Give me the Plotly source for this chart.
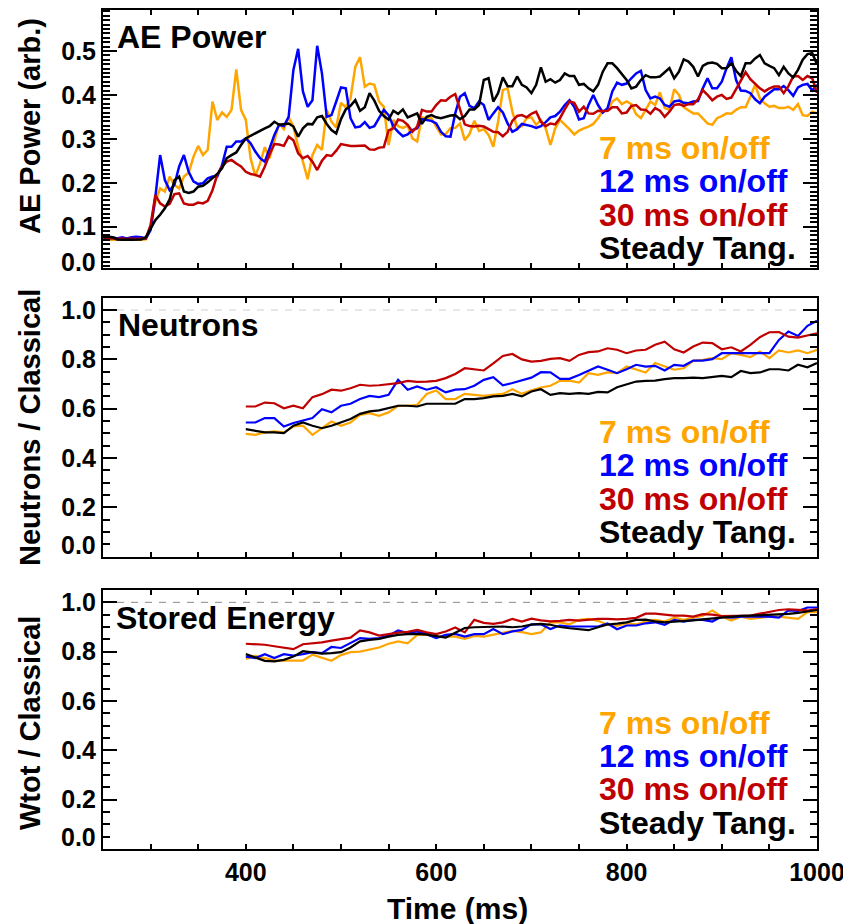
import numpy as np
import plotly.graph_objects as go

# ---------------- data ----------------
t_ae = list(range(250, 1001, 5))
t_slow = list(range(400, 1001, 10))

ae_7ms = [0.071,0.070,0.071,0.070,0.071,0.072,0.071,0.070,0.070,0.071,
          0.100,0.157,0.187,0.180,0.214,0.195,0.187,0.214,0.223,0.259,
          0.284,0.263,0.275,0.385,0.343,0.360,0.350,0.366,0.458,0.366,
          0.343,0.256,0.215,0.244,0.281,0.256,0.294,0.335,0.322,0.349,
          0.328,0.282,0.248,0.208,0.263,0.286,0.275,0.366,0.339,0.326,
          0.382,0.372,0.392,0.464,0.486,0.419,0.426,0.423,0.385,0.373,
          0.286,0.343,0.329,0.325,0.330,0.301,0.294,0.349,0.347,0.347,
          0.328,0.310,0.311,0.324,0.325,0.335,0.297,0.311,0.341,0.318,
          0.322,0.309,0.282,0.339,0.411,0.415,0.362,0.326,0.329,0.347,
          0.349,0.332,0.343,0.324,0.286,0.324,0.343,0.333,0.322,0.310,
          0.319,0.324,0.328,0.334,0.347,0.364,0.364,0.385,0.392,0.379,
          0.385,0.379,0.356,0.347,0.366,0.385,0.377,0.406,0.370,0.366,
          0.413,0.400,0.372,0.364,0.358,0.358,0.347,0.335,0.332,0.347,
          0.352,0.358,0.357,0.366,0.372,0.372,0.396,0.423,0.392,0.381,
          0.373,0.375,0.370,0.370,0.373,0.366,0.379,0.354,0.352,0.362,
          0.358]
ae_12ms = [0.077,0.077,0.076,0.073,0.076,0.073,0.076,0.077,0.076,0.073,
           0.092,0.168,0.263,0.206,0.183,0.195,0.237,0.263,0.225,0.203,
           0.197,0.199,0.210,0.214,0.214,0.240,0.282,0.282,0.294,0.294,
           0.301,0.290,0.271,0.256,0.248,0.278,0.309,0.332,0.329,0.350,
           0.457,0.505,0.408,0.373,0.388,0.512,0.449,0.350,0.354,0.385,
           0.417,0.415,0.347,0.326,0.328,0.338,0.325,0.329,0.347,0.366,
           0.354,0.328,0.316,0.306,0.310,0.320,0.324,0.345,0.343,0.341,
           0.335,0.316,0.306,0.305,0.358,0.396,0.404,0.375,0.370,0.385,
           0.377,0.343,0.358,0.372,0.360,0.335,0.316,0.322,0.334,0.332,
           0.329,0.325,0.329,0.338,0.349,0.352,0.362,0.377,0.388,0.373,
           0.344,0.347,0.377,0.400,0.377,0.360,0.370,0.408,0.428,0.423,
           0.426,0.438,0.449,0.455,0.411,0.392,0.396,0.392,0.377,0.373,
           0.385,0.387,0.382,0.381,0.385,0.386,0.415,0.438,0.415,0.415,
           0.430,0.461,0.486,0.434,0.410,0.409,0.404,0.390,0.381,0.396,
           0.405,0.413,0.413,0.420,0.411,0.398,0.417,0.423,0.425,0.410,
           0.423]
ae_30ms = [0.076,0.073,0.073,0.072,0.073,0.072,0.073,0.072,0.073,0.073,
           0.104,0.172,0.153,0.146,0.152,0.174,0.176,0.153,0.150,0.150,
           0.155,0.153,0.159,0.183,0.218,0.237,0.248,0.252,0.244,0.237,
           0.225,0.220,0.218,0.214,0.237,0.265,0.288,0.287,0.284,0.305,
           0.297,0.267,0.256,0.261,0.248,0.229,0.250,0.263,0.261,0.273,
           0.288,0.286,0.284,0.284,0.285,0.285,0.276,0.275,0.280,0.281,
           0.319,0.324,0.344,0.341,0.332,0.316,0.328,0.366,0.362,0.362,
           0.377,0.388,0.387,0.396,0.402,0.366,0.333,0.329,0.328,0.330,
           0.328,0.322,0.316,0.315,0.306,0.316,0.341,0.352,0.354,0.349,
           0.357,0.362,0.339,0.329,0.335,0.333,0.347,0.367,0.385,0.382,
           0.362,0.373,0.358,0.357,0.364,0.363,0.364,0.372,0.372,0.358,
           0.360,0.375,0.377,0.367,0.366,0.357,0.370,0.364,0.350,0.362,
           0.377,0.379,0.375,0.379,0.379,0.390,0.411,0.400,0.388,0.396,
           0.400,0.391,0.394,0.413,0.434,0.452,0.436,0.425,0.415,0.408,
           0.415,0.419,0.419,0.404,0.420,0.442,0.443,0.434,0.443,0.438,
           0.405]
ae_steady = [0.076,0.077,0.076,0.071,0.070,0.071,0.070,0.070,0.071,0.076,
             0.094,0.115,0.127,0.142,0.162,0.206,0.214,0.180,0.177,0.180,
             0.191,0.193,0.201,0.210,0.220,0.233,0.256,0.263,0.269,0.286,
             0.301,0.307,0.313,0.318,0.324,0.329,0.339,0.332,0.334,0.335,
             0.328,0.305,0.324,0.334,0.333,0.349,0.352,0.334,0.320,0.312,
             0.345,0.367,0.375,0.388,0.364,0.372,0.404,0.387,0.364,0.352,
             0.344,0.364,0.357,0.367,0.349,0.354,0.358,0.334,0.350,0.354,
             0.349,0.347,0.350,0.353,0.354,0.345,0.352,0.367,0.367,0.377,
             0.434,0.438,0.385,0.404,0.440,0.420,0.420,0.442,0.423,0.417,
             0.404,0.423,0.463,0.430,0.436,0.428,0.434,0.449,0.443,0.443,
             0.423,0.425,0.415,0.408,0.423,0.453,0.472,0.472,0.461,0.448,
             0.434,0.415,0.419,0.434,0.445,0.440,0.440,0.442,0.451,0.461,
             0.438,0.453,0.481,0.476,0.464,0.442,0.466,0.472,0.474,0.471,
             0.461,0.461,0.472,0.455,0.443,0.472,0.472,0.483,0.491,0.472,
             0.466,0.461,0.445,0.464,0.449,0.440,0.457,0.480,0.493,0.495,
             0.470]

neut_7ms = [0.498,0.494,0.504,0.508,0.504,0.528,0.531,0.494,0.521,0.548,
            0.531,0.544,0.575,0.582,0.571,0.585,0.612,0.612,0.616,0.660,
            0.674,0.639,0.639,0.660,0.656,0.652,0.656,0.660,0.679,0.660,
            0.675,0.686,0.693,0.713,0.714,0.706,0.744,0.737,0.747,0.744,
            0.771,0.758,0.747,0.785,0.771,0.758,0.764,0.794,0.798,0.805,
            0.801,0.825,0.818,0.809,0.832,0.805,0.836,0.828,0.836,0.825,
            0.839]
neut_12ms = [0.544,0.544,0.562,0.562,0.528,0.542,0.552,0.562,0.598,0.585,
             0.612,0.620,0.639,0.652,0.647,0.656,0.717,0.677,0.690,0.677,
             0.687,0.666,0.677,0.679,0.693,0.717,0.728,0.695,0.704,0.714,
             0.726,0.748,0.747,0.721,0.721,0.737,0.755,0.771,0.758,0.744,
             0.760,0.778,0.771,0.774,0.755,0.778,0.774,0.795,0.795,0.801,
             0.825,0.825,0.828,0.825,0.825,0.825,0.879,0.913,0.895,0.936,
             0.957]
neut_30ms = [0.609,0.609,0.625,0.622,0.602,0.612,0.602,0.647,0.659,0.677,
             0.673,0.683,0.697,0.693,0.695,0.700,0.704,0.713,0.709,0.710,
             0.713,0.724,0.741,0.764,0.760,0.755,0.784,0.814,0.822,0.800,
             0.791,0.794,0.802,0.805,0.794,0.818,0.829,0.832,0.845,0.839,
             0.825,0.836,0.839,0.859,0.872,0.841,0.828,0.852,0.868,0.866,
             0.841,0.849,0.832,0.859,0.890,0.910,0.911,0.892,0.888,0.897,
             0.906]
neut_steady = [0.517,0.512,0.504,0.504,0.501,0.531,0.544,0.531,0.521,0.531,
               0.544,0.558,0.579,0.589,0.593,0.602,0.612,0.612,0.609,0.620,
               0.620,0.620,0.620,0.639,0.639,0.643,0.650,0.652,0.660,0.650,
               0.670,0.679,0.656,0.663,0.660,0.663,0.660,0.668,0.666,0.687,
               0.697,0.710,0.713,0.714,0.720,0.724,0.724,0.726,0.724,0.728,
               0.733,0.728,0.753,0.744,0.747,0.760,0.760,0.755,0.778,0.768,
               0.785]

wtot_7ms = [0.770,0.783,0.774,0.765,0.764,0.764,0.764,0.788,0.774,0.763,
            0.786,0.798,0.800,0.807,0.817,0.832,0.842,0.834,0.868,0.868,
            0.861,0.861,0.861,0.852,0.864,0.861,0.868,0.875,0.884,0.879,
            0.871,0.878,0.919,0.919,0.911,0.929,0.933,0.925,0.909,0.905,
            0.915,0.911,0.922,0.929,0.922,0.938,0.929,0.938,0.946,0.967,
            0.942,0.926,0.942,0.933,0.938,0.942,0.942,0.938,0.933,0.960,
            0.960]
wtot_12ms = [0.780,0.774,0.790,0.774,0.790,0.784,0.790,0.798,0.794,0.819,
             0.815,0.834,0.855,0.852,0.855,0.865,0.886,0.875,0.882,0.871,
             0.855,0.868,0.872,0.861,0.871,0.871,0.892,0.871,0.882,0.888,
             0.911,0.911,0.892,0.906,0.902,0.902,0.902,0.902,0.914,0.891,
             0.906,0.906,0.915,0.919,0.909,0.929,0.922,0.929,0.929,0.922,
             0.942,0.938,0.942,0.942,0.945,0.942,0.938,0.967,0.965,0.979,
             0.979]
wtot_30ms = [0.832,0.830,0.828,0.822,0.815,0.810,0.830,0.833,0.838,0.845,
             0.850,0.857,0.886,0.878,0.865,0.872,0.877,0.880,0.888,0.878,
             0.871,0.882,0.898,0.878,0.929,0.917,0.913,0.919,0.933,0.922,
             0.934,0.927,0.923,0.925,0.929,0.926,0.930,0.933,0.933,0.931,
             0.933,0.937,0.954,0.954,0.950,0.946,0.946,0.942,0.952,0.950,
             0.944,0.945,0.946,0.946,0.954,0.963,0.969,0.972,0.968,0.967,
             0.973]
wtot_steady = [0.790,0.776,0.763,0.761,0.767,0.780,0.802,0.797,0.792,0.794,
               0.798,0.817,0.842,0.848,0.852,0.861,0.868,0.871,0.872,0.869,
               0.864,0.857,0.877,0.896,0.899,0.900,0.902,0.902,0.899,0.902,
               0.910,0.913,0.909,0.900,0.895,0.891,0.887,0.899,0.910,0.914,
               0.919,0.929,0.930,0.923,0.919,0.922,0.923,0.927,0.931,0.935,
               0.938,0.942,0.945,0.946,0.948,0.949,0.949,0.953,0.957,0.964,
               0.969]

series_names = ["7 ms on/off", "12 ms on/off", "30 ms on/off", "Steady Tang."]
series_colors = ["#FFA500", "#0000FF", "#C00000", "#000000"]
panel_titles = ["AE Power", "Neutrons", "Stored Energy"]
y_titles = ["AE Power (arb.)", "Neutrons / Classical", "Wtot / Classical"]
x_title = "Time (ms)"
x_ticks = [400, 600, 800, 1000]

# ---------------- figure ----------------
W, H = 843, 924
ML, MR, MT, MB = 103, 26, 10, 75
plot_h = H - MT - MB
def py(y_px):  # pixel (from top) -> paper
    return (H - MB - y_px) / plot_h
def px(x_px):
    return (x_px - ML) / (W - ML - MR)
def clamp(v):
    return min(1.0, max(0.0, v))

FONT = "Liberation Sans, Arial, Helvetica, sans-serif"

fig = go.Figure()

panels = [
    (t_ae, [ae_7ms, ae_12ms, ae_30ms, ae_steady], 2.5),
    (t_slow, [neut_7ms, neut_12ms, neut_30ms, neut_steady], 2.2),
    (t_slow, [wtot_7ms, wtot_12ms, wtot_30ms, wtot_steady], 2.2),
]
for i, (tt, vals, lw) in enumerate(panels):
    sfx = "" if i == 0 else str(i + 1)
    for name, col, v in zip(series_names, series_colors, vals):
        fig.add_trace(go.Scatter(x=tt, y=v, mode="lines", name=name,
                                 line=dict(color=col, width=lw),
                                 xaxis="x" + sfx, yaxis="y" + sfx,
                                 showlegend=False, hoverinfo="skip"))

domains = [(clamp(py(267.7)), clamp(py(10))),
           (clamp(py(556.7)), clamp(py(297.7))),
           (0.0, clamp(py(590)))]

common = dict(showline=True, linecolor="black", linewidth=2, mirror="ticks",
              ticks="inside", tickcolor="black", tickwidth=1.5,
              showgrid=False, zeroline=False, automargin=False,
              tickfont=dict(family=FONT, size=25, color="black", weight="bold"))

layout = dict(width=W, height=H, margin=dict(l=ML, r=MR, t=MT, b=MB, autoexpand=False),
              paper_bgcolor="white", plot_bgcolor="white", showlegend=False)

for i in range(3):
    sfx = "" if i == 0 else str(i + 1)
    layout["xaxis" + sfx] = dict(common, domain=[0, 1], range=[250, 1000],
                                 anchor="y" + sfx, tickmode="array",
                                 tickvals=x_ticks,
                                 ticktext=[str(v) for v in x_ticks],
                                 ticklen=5, ticklabeloverflow="allow",
                                 showticklabels=(i == 2),
                                 minor=dict(ticks="inside", tickmode="array",
                                            tickvals=list(range(300, 1000, 50)),
                                            ticklen=5, tickcolor="black",
                                            tickwidth=1.5, showgrid=False))
    if i == 0:
        yr = [0.0066, 0.5934]
        tv = [0.1, 0.2, 0.3, 0.4, 0.5]
        mv = [round(k * 0.01, 2) for k in range(1, 60)]
    else:
        yr = [0.0, 1.05]
        tv = [0.2, 0.4, 0.6, 0.8, 1.0]
        mv = [round(k * 0.05, 2) for k in range(1, 21)]
    layout["yaxis" + sfx] = dict(common, domain=list(domains[i]), range=yr,
                                 anchor="x" + sfx, tickmode="array",
                                 tickvals=tv, ticktext=["%.1f" % v for v in tv],
                                 ticklen=14,
                                 minor=dict(ticks="inside", tickmode="array",
                                            tickvals=mv, ticklen=7,
                                            tickcolor="black", tickwidth=1.5,
                                            showgrid=False))

fig.update_layout(**layout)

# dashed reference lines at 1.0
fig.add_shape(type="line", xref="x2", yref="y2", x0=250, x1=1000, y0=1, y1=1,
              line=dict(color="#cfcfcf", width=1, dash="7px,7px"), layer="below")
fig.add_shape(type="line", xref="x3", yref="y3", x0=250, x1=1000, y0=1, y1=1,
              line=dict(color="#8a8a8a", width=1, dash="7px,7px"), layer="below")

ann = []
def add_text(text, x, y, size, color="black", xanchor="left", yanchor="middle", angle=0):
    ann.append(dict(text=text, x=x, y=y, xref="paper", yref="paper",
                    xanchor=xanchor, yanchor=yanchor, showarrow=False,
                    textangle=angle, borderpad=0,
                    font=dict(family=FONT, size=size, color=color, weight="bold")))

# panel titles
add_text(panel_titles[0], px(116), py(36.5), 32)
add_text(panel_titles[1], px(117), py(325), 32)
add_text(panel_titles[2], px(115), py(618.3), 32)

# legends as coloured text
leg_rows = [[148, 181.3, 214.7, 248], [431.7, 465.3, 498.7, 532.3], [722.7, 756, 789.3, 822.7]]
for rows in leg_rows:
    for name, col, yy in zip(series_names, series_colors, rows):
        add_text(name, px(598), py(yy), 32, color=col)

# raised "0.0" labels
for yy in [261.7, 545, 837.3]:
    add_text("0.0", px(97), py(yy), 25, xanchor="right")

# axis titles
add_text(y_titles[0], px(30), py(126), 29, xanchor="center", angle=-90)
add_text(y_titles[1], px(30), py(428), 29, xanchor="center", angle=-90)
add_text(y_titles[2], px(30), py(723), 29, xanchor="center", angle=-90)
add_text(x_title, px(457.5), py(908), 30, xanchor="center")

fig.update_layout(annotations=ann)
fig.write_html("out.html")
